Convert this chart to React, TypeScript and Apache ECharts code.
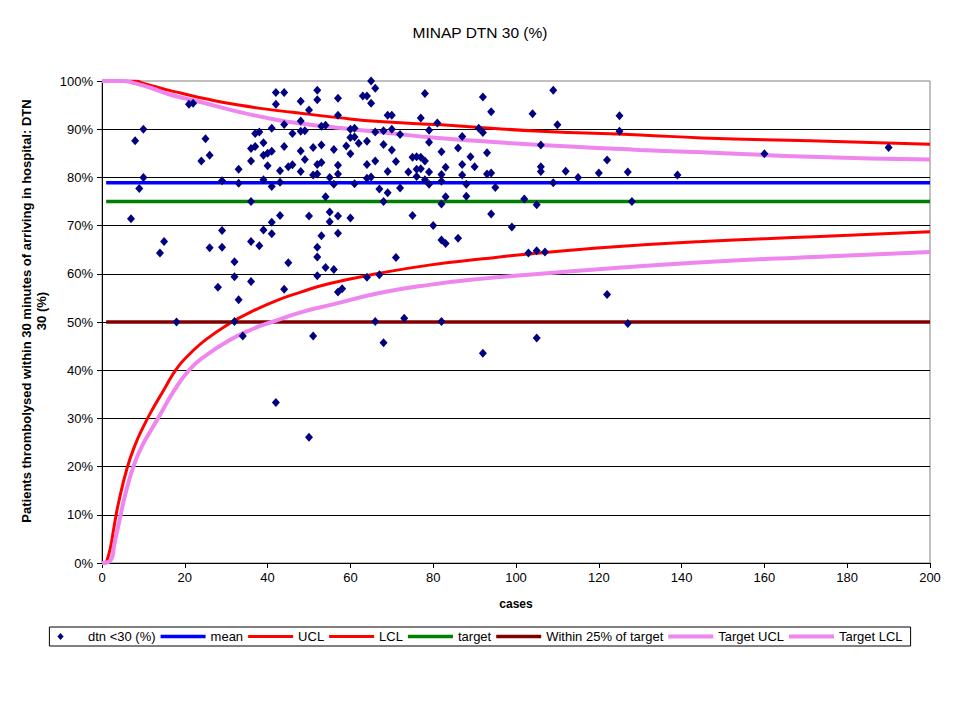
import React, { useEffect, useRef } from "react";
import * as echarts from "echarts";

const FONT = "Arial, 'Liberation Sans', Helvetica, sans-serif";

const chartTitle = "MINAP DTN 30 (%)";
const xAxisTitle = "cases";
const yAxisTitle = "Patients thrombolysed within 30 minutes of arriving in hospital: DTN\n30 (%)";

// Scatter: hospitals (cases, % thrombolysed within 30 min)
const scatterCases = [
  21, 22, 8, 10, 10, 9, 7, 14, 15, 18, 25, 24, 26, 29, 29, 26, 29, 28, 32, 32,
  33, 32, 34, 33, 33, 37, 38, 36, 37, 36, 36, 36, 36, 38, 39, 39, 40, 41, 40, 39,
  39, 41, 41, 41, 41, 42, 44, 42, 42, 43, 43, 43, 44, 44, 44, 45, 46, 46, 45, 48,
  48, 48, 49, 48, 48, 49, 50, 51, 51, 52, 52, 52, 52, 53, 53, 54, 53, 53, 52, 52,
  52, 51, 50, 50, 54, 54, 55, 55, 55, 56, 56, 56, 57, 57, 57, 57, 57, 57, 57, 58,
  59, 60, 61, 60, 61, 60, 60, 61, 62, 63, 64, 65, 66, 65, 64, 64, 66, 64, 65, 66,
  64, 67, 66, 67, 68, 68, 68, 68, 69, 70, 69, 69, 70, 70, 71, 71, 72, 72, 73, 74,
  75, 76, 77, 75, 76, 77, 76, 77, 78, 78, 78, 79, 79, 79, 79, 80, 81, 82, 82, 82,
  82, 82, 83, 82, 83, 83, 86, 86, 87, 87, 87, 88, 88, 89, 90, 91, 92, 92, 93, 93,
  94, 94, 94, 95, 92, 99, 102, 103, 104, 105, 105, 105, 106, 106, 106, 107, 109, 109, 110, 112,
  115, 120, 122, 122, 125, 125, 127, 128, 127, 139, 160, 190,
];
const scatterPct = [
  95.2, 95.4, 87.6, 90.0, 80.0, 77.7, 71.4, 64.3, 66.7, 50.0, 88.0, 83.4, 84.6, 79.3, 69.0, 65.4, 65.5, 57.2, 62.5, 59.4,
  54.6, 50.1, 47.1, 81.7, 78.8, 89.1, 89.4, 86.0, 86.4, 83.4, 75.0, 66.7, 58.4, 65.8, 87.2, 84.6, 85.0, 85.4, 82.4, 79.5,
  69.1, 78.1, 70.7, 68.3, 90.2, 97.6, 97.6, 95.2, 33.3, 81.4, 79.0, 72.1, 91.0, 86.4, 56.8, 82.2, 82.6, 89.1, 62.3, 95.8,
  91.7, 89.6, 89.7, 85.5, 81.2, 83.7, 94.0, 86.2, 80.5, 80.7, 98.1, 96.1, 82.7, 83.1, 90.6, 90.8, 86.7, 67.9, 65.5, 63.5,
  59.6, 47.1, 72.0, 26.1, 76.0, 61.3, 80.0, 72.8, 70.8, 85.8, 78.6, 60.9, 96.4, 92.9, 82.5, 80.7, 72.0, 68.4, 56.2, 56.9,
  86.5, 90.0, 90.2, 88.3, 88.4, 84.9, 71.6, 78.7, 87.1, 96.9, 96.9, 100.0, 98.5, 95.4, 87.5, 82.7, 83.4, 79.8, 80.1, 89.4,
  59.3, 59.8, 50.1, 77.6, 89.7, 86.8, 75.0, 45.7, 92.9, 92.9, 81.2, 76.8, 85.7, 90.0, 83.3, 63.4, 88.9, 77.8, 50.8, 81.1,
  84.2, 84.3, 84.2, 72.1, 81.7, 81.8, 80.2, 92.3, 97.4, 83.4, 79.5, 89.8, 87.3, 81.1, 78.6, 70.0, 91.3, 85.3, 80.6, 79.2,
  74.5, 67.0, 66.3, 50.1, 82.1, 76.0, 86.1, 67.4, 88.5, 82.7, 80.5, 78.6, 76.1, 84.3, 82.2, 90.2, 96.7, 89.3, 85.1, 80.7,
  80.9, 93.6, 72.4, 77.9, 43.5, 69.7, 75.5, 64.3, 93.2, 74.3, 64.8, 46.7, 86.7, 82.2, 81.2, 64.5, 98.1, 78.9, 90.9, 81.3,
  80.0, 80.9, 83.6, 55.7, 92.8, 89.6, 81.1, 75.0, 49.7, 80.5, 84.9, 86.2,
];

// Horizontal reference lines
const refLineCases = [1, 200];
const meanPct = [78.9, 78.9];
const targetPct = [75, 75];
const within25Pct = [50, 50];

// Control limits around the mean
const uclCases = [1, 8, 10, 13, 16, 19, 25, 33, 43, 48, 57, 67, 82, 92, 106, 130, 145, 171, 200];
const uclPct = [100, 100, 99.5, 98.8, 98.1, 97.5, 96.3, 95.0, 93.8, 93.3, 92.4, 91.6, 90.9, 90.3, 89.6, 88.8, 88.2, 87.6, 86.9];

const lclCases = [1, 2, 3, 4, 6, 8, 10, 12, 15, 18, 21, 25, 31, 36, 42, 48, 55, 67, 79, 92, 103, 124, 145, 172, 200];
const lclPct = [0, 3, 8, 12.5, 19.5, 24.5, 28.3, 31.6, 36, 40.3, 43.2, 46.3, 49.8, 52.1, 54.4, 56.2, 58.0, 60.1, 61.8, 63.1, 64.1, 65.6, 66.7, 67.7, 68.7];

// Control limits around the target
const tuclCases = [0, 5, 8, 12, 16, 20, 24, 33, 43, 48, 57, 67, 82, 92, 106, 130, 145, 171, 200];
const tuclPct = [100, 100, 99.5, 98.5, 97.3, 96.4, 95.6, 93.6, 91.8, 91.2, 90.3, 89.4, 88.1, 87.5, 86.7, 85.7, 85.2, 84.3, 83.7];

const tlclCases = [0, 2, 3, 4, 6, 8, 10, 12, 14, 17, 21, 25, 31, 36, 41, 48, 55, 67, 79, 92, 103, 124, 145, 172, 200];
const tlclPct = [0, 0.5, 4, 8, 15.5, 21, 24.8, 27.8, 30.7, 35.2, 40, 43, 46.3, 48.4, 50, 52, 53.5, 56, 57.7, 59, 59.8, 61.2, 62.4, 63.5, 64.5];

const pairs = (xs: number[], ys: number[]) => xs.map((x, i) => [x, ys[i]]);

const lineSeries = (name: string, xs: number[], ys: number[], color: string, width: number, smooth = true) => ({
  name,
  type: "line",
  data: pairs(xs, ys),
  showSymbol: false,
  symbol: "none",
  smooth: smooth ? 0.5 : false,
  lineStyle: { color, width },
  itemStyle: { color },
  z: 2,
});

const barIcon = (h: number) => `path://M0,0 L45,0 L45,${h} L0,${h} Z`;
const diamondIcon = "path://M4,0 L8,4.5 L4,9 L0,4.5 Z";

export default function App() {
  const ref = useRef<HTMLDivElement>(null);
  useEffect(() => {
    const chart = echarts.init(ref.current as HTMLDivElement, null, { renderer: "svg" });
    const pink = "#ee86ee";
    const option = {
      animation: false,
      backgroundColor: "#ffffff",
      textStyle: { fontFamily: FONT, color: "#000" },
      title: {
        text: chartTitle,
        left: "center",
        top: 24,
        padding: 0,
        textStyle: { fontFamily: FONT, fontSize: 15.5, fontWeight: "normal", color: "#000" },
      },
      grid: {
        left: 102,
        right: 30,
        top: 81,
        bottom: 157,
        show: true,
        borderColor: "#808080",
        borderWidth: 1,
        backgroundColor: "#ffffff",
      },
      legend: {
        top: 627,
        left: "center",
        itemWidth: 45,
        itemHeight: 7,
        itemGap: 5,
        padding: [3, 8],
        borderColor: "#000",
        borderWidth: 1,
        selectedMode: false,
        textStyle: { fontFamily: FONT, fontSize: 13, color: "#000" },
        data: [
          { name: "dtn <30 (%)", icon: diamondIcon },
          { name: "mean", icon: barIcon(3.5) },
          { name: "UCL", icon: barIcon(3) },
          { name: "LCL", icon: barIcon(3) },
          { name: "target", icon: barIcon(3.5) },
          { name: "Within 25% of target", icon: barIcon(3.5) },
          { name: "Target UCL", icon: barIcon(4) },
          { name: "Target LCL", icon: barIcon(4) },
        ],
      },
      xAxis: {
        type: "value",
        min: 0,
        max: 200,
        interval: 20,
        name: xAxisTitle,
        nameLocation: "middle",
        nameGap: 35,
        nameTextStyle: { fontFamily: FONT, fontSize: 12, fontWeight: "bold", color: "#000" },
        axisLine: { show: true, onZero: false, lineStyle: { color: "#000", width: 1 } },
        axisTick: { show: true, inside: false, length: 5, lineStyle: { color: "#000" } },
        axisLabel: { fontFamily: FONT, fontSize: 13, color: "#000", margin: 8 },
        splitLine: { show: false },
      },
      yAxis: {
        type: "value",
        min: 0,
        max: 100,
        interval: 10,
        name: yAxisTitle,
        nameLocation: "middle",
        nameGap: 53,
        nameTextStyle: {
          fontFamily: FONT,
          fontSize: 13,
          fontWeight: "bold",
          color: "#000",
          lineHeight: 15,
          align: "center",
          padding: [0, 0, 0, 22],
        },
        axisLine: { show: true, onZero: false, lineStyle: { color: "#000", width: 1 } },
        axisTick: { show: true, inside: false, length: 5, lineStyle: { color: "#000" } },
        axisLabel: { fontFamily: FONT, fontSize: 13, color: "#000", margin: 9, formatter: "{value}%" },
        splitLine: {
          show: true,
          showMinLine: false,
          showMaxLine: false,
          lineStyle: { color: "#000", width: 1 },
        },
      },
      series: [
        {
          name: "dtn <30 (%)",
          type: "scatter",
          data: pairs(scatterCases, scatterPct),
          symbol: "diamond",
          symbolSize: [8, 9],
          itemStyle: { color: "#000080", opacity: 1 },
          z: 5,
        },
        lineSeries("mean", refLineCases, meanPct, "#0000ff", 3.5, false),
        lineSeries("UCL", uclCases, uclPct, "#ff0000", 3),
        lineSeries("LCL", lclCases, lclPct, "#ff0000", 3),
        lineSeries("target", refLineCases, targetPct, "#008000", 3.5, false),
        lineSeries("Within 25% of target", refLineCases, within25Pct, "#800000", 3.5, false),
        lineSeries("Target UCL", tuclCases, tuclPct, pink, 4),
        lineSeries("Target LCL", tlclCases, tlclPct, pink, 4),
      ],
    };
    chart.setOption(option as any);
    return () => chart.dispose();
  }, []);
  return (
    <div
      ref={ref}
      style={{ position: "fixed", left: 0, top: 0, width: 960, height: 720, background: "#fff" }}
    />
  );
}
